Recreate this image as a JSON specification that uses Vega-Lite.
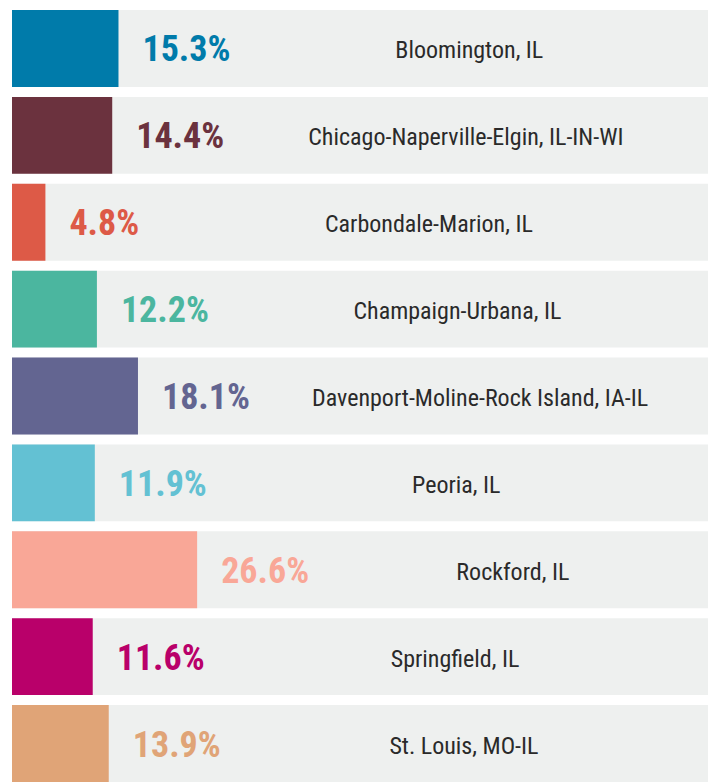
{
  "$schema": "https://vega.github.io/schema/vega-lite/v6.json",
  "width": 709,
  "height": 784,
  "autosize": {"type": "fit", "contains": "padding"},
  "padding": {"left": 12, "top": 10, "right": 1, "bottom": 2},
  "background": "#ffffff",
  "config": {"view": {"stroke": null}},
  "data": {
    "values": [
      {"city": "Bloomington, IL", "value": 0.153},
      {"city": "Chicago-Naperville-Elgin, IL-IN-WI", "value": 0.144},
      {"city": "Carbondale-Marion, IL", "value": 0.048},
      {"city": "Champaign-Urbana, IL", "value": 0.122},
      {"city": "Davenport-Moline-Rock Island, IA-IL", "value": 0.181},
      {"city": "Peoria, IL", "value": 0.119},
      {"city": "Rockford, IL", "value": 0.266},
      {"city": "Springfield, IL", "value": 0.116},
      {"city": "St. Louis, MO-IL", "value": 0.139}
    ]
  },
  "encoding": {
    "y": {
      "field": "city",
      "type": "nominal",
      "sort": null,
      "axis": null,
      "scale": {"paddingInner": 0.115, "paddingOuter": 0}
    }
  },
  "layer": [
    {
      "mark": {"type": "bar", "color": "#eef0ef"},
      "encoding": {
        "x": {"datum": 0, "type": "quantitative", "scale": {"domain": [0, 1]}, "axis": null},
        "x2": {"datum": 1}
      }
    },
    {
      "mark": {"type": "bar"},
      "encoding": {
        "x": {"field": "value", "type": "quantitative", "scale": {"domain": [0, 1]}, "axis": null},
        "color": {
          "field": "city",
          "type": "nominal",
          "legend": null,
          "scale": {
            "domain": ["Bloomington, IL", "Chicago-Naperville-Elgin, IL-IN-WI", "Carbondale-Marion, IL", "Champaign-Urbana, IL", "Davenport-Moline-Rock Island, IA-IL", "Peoria, IL", "Rockford, IL", "Springfield, IL", "St. Louis, MO-IL"],
            "range": ["#007baa", "#6b323e", "#dd5a47", "#4bb69f", "#636591", "#63c1d3", "#f9a797", "#b9006a", "#e0a477"]
          }
        }
      }
    },
    {
      "mark": {"type": "text", "align": "left", "baseline": "middle", "dx": 24, "dy": 2, "font": "Roboto Condensed, Liberation Sans Narrow, Roboto, sans-serif", "fontWeight": "bold", "fontSize": 36},
      "encoding": {
        "x": {"field": "value", "type": "quantitative", "scale": {"domain": [0, 1]}, "axis": null},
        "text": {"field": "value", "type": "quantitative", "format": ".1%"},
        "color": {"field": "city", "type": "nominal", "legend": null}
      }
    },
    {
      "mark": {"type": "text", "align": "center", "baseline": "middle", "dy": 3, "font": "Roboto Condensed, Liberation Sans Narrow, Roboto, sans-serif", "fontSize": 24, "color": "#2a2a2a"},
      "encoding": {
        "x": {"field": "value", "type": "quantitative", "scale": {"domain": [-1.035, 0.773]}, "axis": null},
        "text": {"field": "city", "type": "nominal"}
      }
    }
  ],
  "resolve": {"scale": {"x": "independent"}}
}
